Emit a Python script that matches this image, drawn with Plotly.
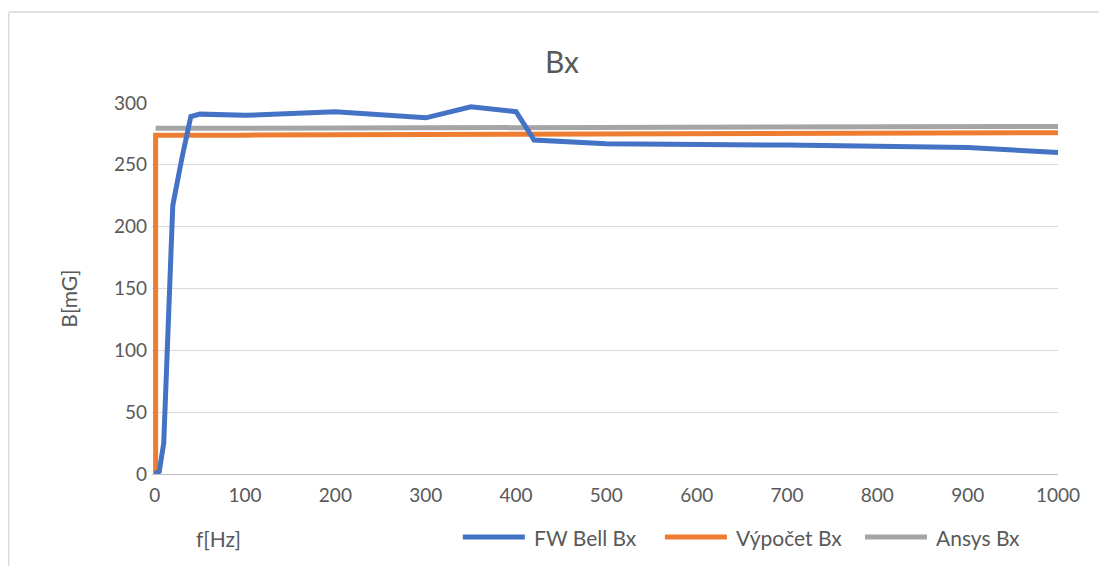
import plotly.graph_objects as go

# Data
fw_f = [0, 5, 10, 20, 30, 40, 50, 100, 200, 300, 350, 400, 420, 500, 700, 900, 1000]
fw_b = [0, 2, 25, 217, 255, 289, 291, 290, 293, 288, 297, 293, 270, 267, 266, 264, 260]

vyp_f = [1, 1, 100, 200, 300, 400, 500, 600, 700, 800, 900, 1000]
vyp_b = [0, 274, 274, 274.2, 274.4, 274.6, 274.8, 275, 275.2, 275.4, 275.6, 276]

ans_f = [1, 100, 200, 300, 400, 500, 600, 700, 800, 900, 1000]
ans_b = [279.5, 279.6, 279.7, 279.8, 279.9, 280, 280.2, 280.4, 280.6, 280.8, 281]

series_names = ["FW Bell Bx", "Výpočet Bx", "Ansys Bx"]
series_colors = ["#4472C4", "#ED7D31", "#A5A5A5"]

x_ticks = list(range(0, 1001, 100))
y_ticks = list(range(0, 301, 50))

font = "Lato, Open Sans, sans-serif"
txt = "#595959"

# page offset (browser body margin)
OFF = 8
W, H = 1107, 566
X0PX, PR, PT, PB = 155, 1058, 103, 474  # x=0 pixel, plot right/top/bottom in page pixels
XMIN = -3
PL = X0PX + XMIN * (PR - X0PX) / 1000.0
pw, ph = PR - PL, PB - PT


def px(x):
    return (x - PL) / pw


def py(y):
    return (PB - y) / ph


fig = go.Figure()
fig.add_trace(go.Scatter(x=ans_f, y=ans_b, mode="lines", name=series_names[2],
                         line=dict(color=series_colors[2], width=5)))
fig.add_trace(go.Scatter(x=vyp_f, y=vyp_b, mode="lines", name=series_names[1],
                         line=dict(color=series_colors[1], width=5)))
fig.add_trace(go.Scatter(x=fw_f, y=fw_b, mode="lines", name=series_names[0],
                         line=dict(color=series_colors[0], width=5)))

# custom legend (longer line samples like the original)
leg_line_x = [461, 663, 863]
leg_y = 537
shapes = [
    dict(type="line", xref="paper", yref="paper", x0=px(9), x1=px(9), y0=py(566), y1=py(13),
         line=dict(color="#d9d9d9", width=1.5), layer="below"),
    dict(type="line", xref="paper", yref="paper", x0=px(9), x1=px(1107), y0=py(12), y1=py(12),
         line=dict(color="#d9d9d9", width=1.5), layer="below"),
]
annotations = [
    dict(text="f[Hz]", xref="paper", yref="paper", x=px(219), y=py(538),
         xanchor="center", yanchor="middle", showarrow=False, font=dict(size=21, color=txt)),
    dict(text="B[mG]", xref="paper", yref="paper", x=px(68), y=py(299),
         xanchor="center", yanchor="middle", textangle=-90, showarrow=False,
         font=dict(size=21, color=txt)),
]
for name, col, lx in zip(series_names, series_colors, leg_line_x):
    shapes.append(dict(type="line", xref="paper", yref="paper", x0=px(lx + 2), x1=px(lx + 64),
                       y0=py(leg_y), y1=py(leg_y), line=dict(color=col, width=5)))
    annotations.append(dict(text=name, xref="paper", yref="paper", x=px(lx + 71), y=py(leg_y),
                            xanchor="left", yanchor="middle", showarrow=False,
                            font=dict(size=21, color=txt)))

fig.update_layout(
    width=W, height=H,
    margin=dict(l=PL - OFF, r=W - (PR - OFF), t=PT - OFF, b=H - (PB - OFF)),
    paper_bgcolor="white", plot_bgcolor="white",
    font=dict(family=font, color=txt, size=19),
    title=dict(text="Bx", x=(562 - OFF) / W, xanchor="center", y=1 - (62 - OFF) / H, yanchor="middle",
               font=dict(size=30, color=txt, family=font)),
    showlegend=False,
    xaxis=dict(range=[XMIN, 1000], tickvals=x_ticks, showgrid=False, zeroline=False,
               showline=True, linecolor="#bfbfbf", linewidth=1, ticks="",
               ticklabelstandoff=4, tickfont=dict(size=19, color=txt)),
    yaxis=dict(range=[0, 300], tickvals=y_ticks, showgrid=True, gridcolor="#d9d9d9",
               gridwidth=1, zeroline=False, showline=False, ticks="",
               ticklabelstandoff=int(round(7 - (X0PX - PL))), tickfont=dict(size=19, color=txt)),
    annotations=annotations,
    shapes=shapes,
)

fig.write_html("out.html")
